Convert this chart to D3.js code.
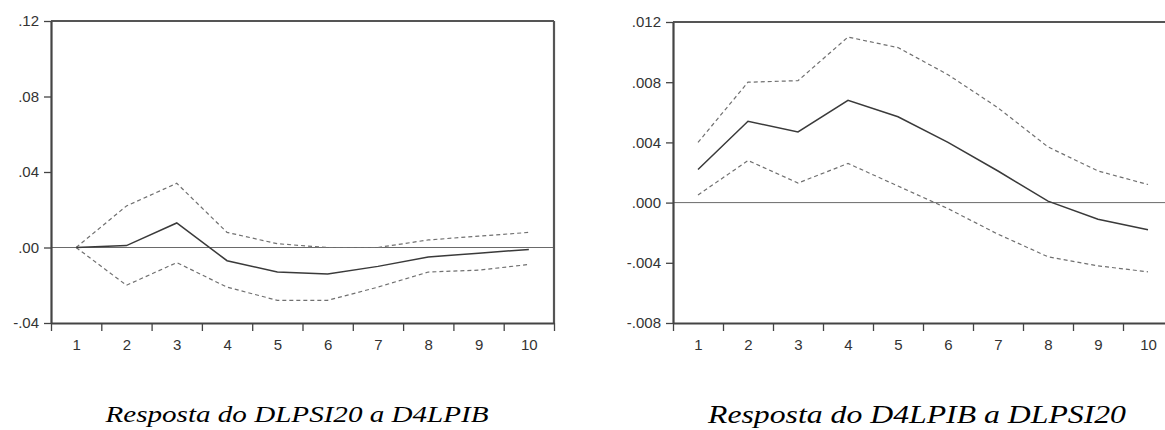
<!DOCTYPE html>
<html><head><meta charset="utf-8">
<script src="https://cdn.jsdelivr.net/npm/d3@7"></script>
<style>body{margin:0;background:#fff;} svg{display:block;}</style>
</head><body>
<svg id="c" width="1165" height="430"></svg>
<script>
const periods = [1,2,3,4,5,6,7,8,9,10];

// Left panel: Resposta do DLPSI20 a D4LPIB
const leftTitle = "Resposta do DLPSI20 a D4LPIB";
const leftTicks = [-0.04, 0.00, 0.04, 0.08, 0.12];
const leftCenter = [0.000, 0.001, 0.013, -0.007, -0.013, -0.014, -0.010, -0.005, -0.003, -0.001];
const leftUpper  = [0.000, 0.022, 0.034, 0.008, 0.002, 0.000, 0.000, 0.004, 0.006, 0.008];
const leftLower  = [0.000, -0.020, -0.008, -0.021, -0.028, -0.028, -0.021, -0.013, -0.012, -0.009];

// Right panel: Resposta do D4LPIB a DLPSI20
const rightTitle = "Resposta do D4LPIB a DLPSI20";
const rightTicks = [-0.008, -0.004, 0.000, 0.004, 0.008, 0.012];
const rightCenter = [0.0022, 0.0054, 0.0047, 0.0068, 0.0057, 0.0040, 0.0021, 0.0001, -0.0011, -0.0018];
const rightUpper  = [0.0040, 0.0080, 0.0081, 0.0110, 0.0103, 0.0085, 0.0063, 0.0037, 0.0021, 0.0012];
const rightLower  = [0.0005, 0.0028, 0.0013, 0.0026, 0.0011, -0.0004, -0.0021, -0.0036, -0.0042, -0.0046];

const svg = d3.select("#c");
const SANS = "'Liberation Sans', Arial, sans-serif";
const SERIF = "'Liberation Serif', 'Times New Roman', serif";

function panel(cfg){
  const g = svg.append("g");
  const x = d3.scaleLinear().domain([0.5, 10.5]).range([cfg.x0, cfg.x1]);
  const y = d3.scaleLinear().domain(d3.extent(cfg.ticks)).range([cfg.y1, cfg.y0]);
  const fmt = v => {
    const s = Math.abs(v).toFixed(cfg.dec).replace(/^0\./, ".");
    return (v < 0 ? "-" : "") + s;
  };

  // zero line
  g.append("line").attr("x1", cfg.x0).attr("x2", cfg.x1)
    .attr("y1", y(0)).attr("y2", y(0))
    .attr("stroke", "#6a6a6a").attr("stroke-width", 1);

  const line = d3.line().x((d,i)=>x(periods[i])).y(d=>y(d));
  [cfg.upper, cfg.lower].forEach(data=>{
    g.append("path").datum(data).attr("d", line)
      .attr("fill","none").attr("stroke","#707070").attr("stroke-width",1.2)
      .attr("stroke-dasharray", "4,3");
  });
  g.append("path").datum(cfg.center).attr("d", line)
    .attr("fill","none").attr("stroke","#3a3a3a").attr("stroke-width",1.5);

  // frame top/right
  g.append("line").attr("x1",cfg.x0).attr("x2",cfg.x1).attr("y1",cfg.y0).attr("y2",cfg.y0)
    .attr("stroke","#555").attr("stroke-width",2.2);
  g.append("line").attr("x1",cfg.x1).attr("x2",cfg.x1).attr("y1",cfg.y0).attr("y2",cfg.y1)
    .attr("stroke","#555").attr("stroke-width",2.2);

  // y axis
  const ya = g.append("g").attr("transform", `translate(${cfg.x0},0)`)
    .call(d3.axisLeft(y).tickValues(cfg.ticks).tickFormat(fmt).tickSize(7).tickSizeOuter(0));
  ya.select(".domain").attr("stroke","#444").attr("stroke-width",2.2);
  ya.selectAll(".tick line").attr("stroke","#444").attr("stroke-width",1.3);
  ya.selectAll("text").style("font-family",SANS)
    .style("font-size","15px").attr("fill","#333").attr("x",-12)
    .attr("transform","scale(1,1)");

  // x axis boundary ticks
  const xb = g.append("g").attr("transform", `translate(0,${cfg.y1})`)
    .call(d3.axisBottom(x).tickValues(d3.range(0.5, 11, 1)).tickFormat("").tickSize(8).tickSizeOuter(0));
  xb.select(".domain").attr("stroke","#444").attr("stroke-width",2.2);
  xb.selectAll(".tick line").attr("stroke","#444").attr("stroke-width",1.3);
  // x labels
  const xl = g.append("g").attr("transform", `translate(0,${cfg.y1})`)
    .call(d3.axisBottom(x).tickValues(periods).tickFormat(d3.format("d")).tickSize(0));
  xl.select(".domain").remove();
  xl.selectAll("text").style("font-family",SANS)
    .style("font-size","15px").attr("fill","#333").attr("y", 27).attr("dy","0");

  svg.append("text").attr("x", cfg.tx - cfg.tw/2).attr("y", cfg.ty)
    .attr("textLength", cfg.tw).attr("lengthAdjust","spacingAndGlyphs")
    .style("font-family",SERIF).style("font-style","italic")
    .style("font-size", cfg.tfs + "px").attr("fill","#000").text(cfg.title);
}

panel({x0:51, x1:554, y0:21, y1:323, ticks:leftTicks, dec:2,
  center:leftCenter, upper:leftUpper, lower:leftLower,
  title:leftTitle, tx:297, ty:422, tw:383, tfs:24});
panel({x0:673, x1:1173, y0:22, y1:323, ticks:rightTicks, dec:3,
  center:rightCenter, upper:rightUpper, lower:rightLower,
  title:rightTitle, tx:917, ty:423, tw:418, tfs:25});
</script>
</body></html>
